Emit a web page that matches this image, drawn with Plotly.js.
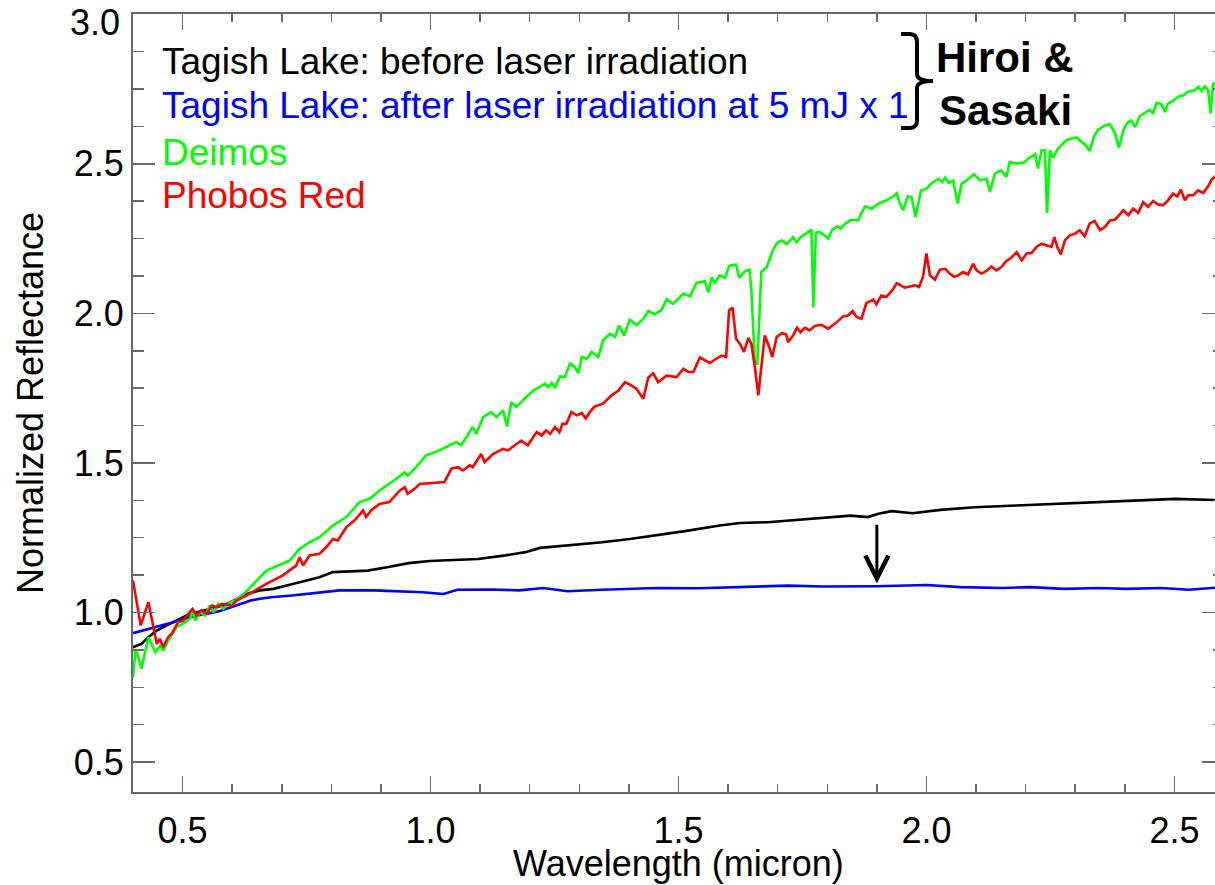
<!DOCTYPE html>
<html>
<head>
<meta charset="utf-8">
<script src="https://cdn.plot.ly/plotly-3.0.1.min.js"></script>
<style>
html,body{margin:0;padding:0;overflow:hidden;background:#fff;}
#chart{width:1225px;height:885px;}
</style>
</head>
<body>
<div id="chart"></div>
<script>
// ---- Data ----
const seriesNames = [
  "Tagish Lake: before laser irradiation",
  "Tagish Lake: after laser irradiation at 5 mJ x 1",
  "Deimos",
  "Phobos Red"
];
const seriesColors = ["#000000", "#0000ff", "#00ff00", "#ff0000"];

const beforeWl = [0.400,0.417,0.431,0.448,0.468,0.488,0.508,0.528,0.555,0.582,0.609,0.629,0.656,0.683,0.710,0.734,0.751,0.776,0.803,0.837,0.873,0.915,0.956,0.998,1.054,1.096,1.151,1.193,1.221,1.276,1.346,1.402,1.457,1.513,1.583,1.624,1.680,1.736,1.791,1.847,1.882,1.903,1.930,1.972,2.028,2.097,2.181,2.264,2.348,2.431,2.501,2.542,2.600];
const beforeR  = [0.884,0.895,0.917,0.940,0.957,0.973,0.990,1.001,1.012,1.023,1.045,1.062,1.074,1.079,1.090,1.101,1.107,1.118,1.135,1.137,1.140,1.152,1.165,1.172,1.176,1.179,1.191,1.202,1.216,1.224,1.235,1.246,1.258,1.272,1.291,1.299,1.302,1.310,1.317,1.324,1.319,1.330,1.339,1.332,1.343,1.352,1.358,1.363,1.369,1.375,1.380,1.377,1.375];

const afterWl = [0.400,0.431,0.460,0.483,0.515,0.539,0.570,0.595,0.620,0.637,0.656,0.678,0.720,0.776,0.817,0.887,0.950,0.984,1.026,1.054,1.123,1.179,1.228,1.276,1.346,1.402,1.457,1.541,1.624,1.722,1.791,1.900,2.000,2.069,2.153,2.209,2.278,2.348,2.403,2.473,2.529,2.600];
const afterR  = [0.931,0.945,0.957,0.968,0.985,0.993,1.003,1.016,1.030,1.040,1.046,1.051,1.057,1.068,1.074,1.074,1.070,1.068,1.062,1.076,1.077,1.074,1.082,1.071,1.076,1.079,1.082,1.081,1.085,1.090,1.087,1.088,1.092,1.085,1.082,1.085,1.079,1.082,1.079,1.082,1.076,1.085];

const deimosWl = [0.400,0.405,0.409,0.417,0.431,0.445,0.455,0.461,0.471,0.488,0.505,0.515,0.521,0.525,0.535,0.545,0.555,0.562,0.572,0.582,0.596,0.606,0.622,0.669,0.716,0.736,0.756,0.776,0.803,0.830,0.857,0.877,0.897,0.917,0.931,0.948,0.954,0.971,0.991,1.018,1.052,1.062,1.079,1.085,1.092,1.106,1.122,1.133,1.146,1.154,1.163,1.173,1.186,1.207,1.231,1.237,1.244,1.251,1.261,1.271,1.281,1.291,1.298,1.305,1.315,1.325,1.338,1.348,1.362,1.372,1.380,1.390,1.402,1.415,1.429,1.439,1.452,1.466,1.476,1.489,1.510,1.523,1.536,1.553,1.560,1.567,1.573,1.583,1.594,1.602,1.616,1.622,1.634,1.643,1.647,1.654,1.659,1.667,1.678,1.688,1.698,1.708,1.718,1.731,1.738,1.748,1.764,1.768,1.772,1.777,1.783,1.792,1.802,1.810,1.821,1.827,1.835,1.848,1.862,1.876,1.889,1.906,1.919,1.933,1.940,1.946,1.953,1.962,1.970,1.978,1.989,2.000,2.010,2.024,2.032,2.038,2.045,2.054,2.063,2.071,2.081,2.096,2.108,2.121,2.128,2.138,2.151,2.161,2.168,2.178,2.195,2.205,2.219,2.225,2.232,2.239,2.243,2.249,2.255,2.264,2.272,2.282,2.292,2.303,2.313,2.321,2.329,2.338,2.346,2.361,2.370,2.380,2.388,2.397,2.405,2.412,2.421,2.430,2.440,2.450,2.457,2.464,2.474,2.481,2.487,2.497,2.508,2.518,2.528,2.541,2.548,2.555,2.561,2.568,2.573,2.578,2.590,2.600];
const deimosR  = [0.784,0.873,0.862,0.812,0.917,0.867,0.890,0.873,0.906,0.951,0.968,0.979,1.012,0.973,1.001,0.990,1.023,1.001,1.029,1.012,1.035,1.040,1.060,1.140,1.174,1.213,1.235,1.252,1.291,1.319,1.369,1.380,1.408,1.430,1.447,1.469,1.458,1.486,1.525,1.542,1.570,1.559,1.603,1.620,1.597,1.653,1.670,1.653,1.676,1.622,1.703,1.687,1.709,1.742,1.765,1.753,1.767,1.753,1.789,1.787,1.832,1.820,1.800,1.854,1.848,1.871,1.854,1.910,1.932,1.921,1.960,1.926,1.979,1.960,1.982,2.008,1.997,2.012,2.047,2.032,2.066,2.057,2.101,2.108,2.071,2.121,2.101,2.127,2.119,2.158,2.164,2.119,2.141,2.146,2.077,1.832,1.832,2.138,2.155,2.202,2.235,2.244,2.231,2.255,2.238,2.257,2.275,2.280,2.020,2.270,2.272,2.264,2.250,2.280,2.291,2.283,2.298,2.313,2.311,2.358,2.350,2.369,2.378,2.391,2.402,2.369,2.345,2.391,2.387,2.322,2.411,2.417,2.434,2.450,2.439,2.454,2.436,2.445,2.367,2.434,2.445,2.465,2.445,2.450,2.406,2.467,2.478,2.456,2.506,2.501,2.503,2.517,2.532,2.484,2.545,2.545,2.336,2.545,2.521,2.547,2.562,2.579,2.584,2.588,2.573,2.562,2.543,2.592,2.614,2.629,2.632,2.603,2.554,2.612,2.637,2.645,2.623,2.659,2.670,2.681,2.668,2.704,2.699,2.673,2.701,2.710,2.724,2.729,2.742,2.746,2.757,2.744,2.759,2.746,2.668,2.768,2.770,2.775];

const phobosWl = [0.400,0.4155,0.431,0.448,0.454,0.461,0.471,0.478,0.491,0.5015,0.514,0.520,0.528,0.538,0.549,0.559,0.569,0.579,0.599,0.609,0.629,0.669,0.702,0.716,0.729,0.736,0.743,0.756,0.776,0.790,0.803,0.813,0.830,0.847,0.864,0.870,0.880,0.897,0.917,0.938,0.948,0.954,0.968,0.978,1.028,1.042,1.055,1.065,1.079,1.085,1.102,1.109,1.126,1.146,1.156,1.183,1.196,1.214,1.224,1.233,1.241,1.251,1.260,1.266,1.274,1.284,1.295,1.305,1.313,1.321,1.331,1.348,1.365,1.379,1.392,1.402,1.415,1.429,1.439,1.449,1.459,1.476,1.496,1.510,1.520,1.530,1.543,1.557,1.563,1.573,1.587,1.596,1.602,1.609,1.616,1.624,1.632,1.641,1.647,1.654,1.661,1.667,1.674,1.683,1.689,1.698,1.708,1.717,1.721,1.731,1.739,1.746,1.755,1.764,1.775,1.788,1.802,1.815,1.825,1.832,1.842,1.851,1.859,1.869,1.879,1.893,1.899,1.909,1.919,1.931,1.940,1.948,1.956,1.967,1.977,1.985,1.993,2.000,2.007,2.017,2.027,2.038,2.047,2.056,2.064,2.074,2.084,2.094,2.101,2.111,2.121,2.131,2.141,2.151,2.161,2.171,2.182,2.192,2.202,2.212,2.222,2.232,2.242,2.252,2.258,2.264,2.271,2.279,2.289,2.299,2.309,2.319,2.329,2.339,2.350,2.360,2.370,2.380,2.390,2.397,2.407,2.417,2.427,2.437,2.447,2.457,2.467,2.477,2.487,2.497,2.506,2.513,2.521,2.528,2.538,2.548,2.558,2.568,2.575,2.581,2.600];
const phobosR  = [1.107,0.957,1.035,0.895,0.912,0.884,0.918,0.929,0.968,0.973,1.001,1.012,0.990,1.007,0.996,1.023,1.018,1.029,1.023,1.040,1.057,1.096,1.124,1.140,1.157,1.185,1.157,1.191,1.196,1.219,1.246,1.241,1.285,1.308,1.341,1.319,1.341,1.363,1.369,1.408,1.419,1.397,1.414,1.430,1.436,1.481,1.486,1.475,1.492,1.486,1.530,1.503,1.530,1.547,1.542,1.575,1.559,1.603,1.592,1.609,1.597,1.620,1.603,1.631,1.631,1.670,1.659,1.667,1.648,1.670,1.689,1.698,1.726,1.742,1.770,1.762,1.748,1.715,1.785,1.800,1.770,1.792,1.787,1.815,1.804,1.804,1.852,1.840,1.834,1.845,1.859,1.854,2.010,2.019,1.915,1.898,1.871,1.918,1.898,1.820,1.726,1.820,1.926,1.887,1.854,1.921,1.934,1.930,1.904,1.926,1.952,1.937,1.952,1.943,1.958,1.962,1.949,1.965,1.979,1.990,1.993,2.008,1.988,1.982,2.035,2.046,2.030,2.060,2.055,2.077,2.101,2.094,2.086,2.090,2.094,2.088,2.122,2.200,2.127,2.113,2.146,2.149,2.133,2.122,2.127,2.138,2.130,2.166,2.144,2.133,2.142,2.157,2.144,2.155,2.175,2.186,2.205,2.177,2.200,2.202,2.222,2.233,2.227,2.222,2.255,2.222,2.197,2.244,2.261,2.266,2.278,2.258,2.300,2.309,2.278,2.289,2.311,2.313,2.331,2.345,2.328,2.350,2.336,2.372,2.356,2.376,2.364,2.361,2.378,2.400,2.391,2.414,2.378,2.395,2.395,2.411,2.402,2.425,2.447,2.456,2.470];

const xTickVals = [0.5, 1.0, 1.5, 2.0, 2.5];
const xTickText = ["0.5", "1.0", "1.5", "2.0", "2.5"];
const yTickVals = [0.5, 1.0, 1.5, 2.0, 2.5, 3.0];
const yTickText = ["0.5", "1.0", "1.5", "2.0", "2.5", "3.0"];
const xTitle = "Wavelength (micron)";
const yTitle = "Normalized Reflectance";
const sourceLines = ["Hiroi &", "Sasaki"];
const arrowPoint = {x: 1.9, yFrom: 1.298, yTo: 1.097};

// ---- Chart ----
const FONT = "Liberation Sans, Arial, Helvetica, sans-serif";
const AXC = "#6a6a6a";
const xs = [beforeWl, afterWl, deimosWl, phobosWl];
const ys = [beforeR, afterR, deimosR, phobosR];
const traces = xs.map((x, i) => ({
  type: "scatter", mode: "lines", x: x, y: ys[i], name: seriesNames[i],
  line: {color: seriesColors[i], width: 2.6}, hoverinfo: "skip"
}));

const legendY = [0.9395, 0.8818, 0.8226, 0.7661];
const annotations = seriesNames.map((t, i) => ({
  xref: "paper", yref: "paper", x: 0.0250, y: legendY[i],
  xanchor: "left", yanchor: "middle", showarrow: false,
  text: t, font: {family: FONT, size: 37, color: seriesColors[i]}
}));
annotations.push({
  xref: "paper", yref: "paper", x: 0.7345, y: 0.9447, xanchor: "left", yanchor: "middle",
  showarrow: false, text: "<b>" + sourceLines[0] + "</b>", font: {family: FONT, size: 42, color: "#000"}
});
annotations.push({
  xref: "paper", yref: "paper", x: 0.7372, y: 0.8766, xanchor: "left", yanchor: "middle",
  showarrow: false, text: "<b>" + sourceLines[1] + "</b>", font: {family: FONT, size: 42, color: "#000"}
});
// x-axis title, drawn as a centred text under the tick labels
annotations.push({
  xref: "paper", yref: "paper", x: 0.5, y: -0.0925, xanchor: "center", yanchor: "middle",
  showarrow: false, text: xTitle, font: {family: FONT, size: 36, color: "#000"}
});
// top y tick label, nudged down inside the page as in the reference
const topIdx = yTickVals.length - 1;
annotations.push({
  xref: "paper", yref: "paper", x: -0.0105, y: 0.9897, xanchor: "right", yanchor: "middle",
  showarrow: false, text: yTickText[topIdx], font: {family: FONT, size: 36, color: "#000"}
});
annotations.push({
  xref: "x", yref: "y", axref: "x", ayref: "y",
  x: arrowPoint.x, y: arrowPoint.yTo, ax: arrowPoint.x, ay: arrowPoint.yFrom,
  text: "", showarrow: true, arrowhead: 5, arrowsize: 1.5, arrowwidth: 3, arrowcolor: "#000",
  standoff: 0, startstandoff: 0
});

const brace = "M 0.7039,0.9743 L 0.7122,0.9743 Q 0.7186,0.9743 0.7186,0.9640 L 0.7186,0.9229 " +
              "Q 0.7186,0.9139 0.7333,0.9139 Q 0.7186,0.9139 0.7186,0.9049 L 0.7186,0.8637 " +
              "Q 0.7186,0.8535 0.7122,0.8535 L 0.7039,0.8535";

const axisCommon = {
  showgrid: false, zeroline: false, showline: true, linecolor: AXC, linewidth: 2,
  mirror: "ticks", ticks: "inside", tickcolor: AXC, tickwidth: 1.5,
  tickfont: {family: FONT, size: 36, color: "#000"}, tickmode: "array"
};

const layout = {
  width: 1225, height: 885,
  margin: {l: 133, r: 1, t: 14, b: 93, pad: 0},
  paper_bgcolor: "#fff", plot_bgcolor: "#fff",
  showlegend: false,
  font: {family: FONT, color: "#000"},
  xaxis: Object.assign({}, axisCommon, {
    range: [0.4, 2.6], autorange: false,
    tickvals: xTickVals, ticktext: xTickText, ticklen: 16,
    ticklabelstandoff: 6,
    minor: {tickmode: "linear", tick0: 0, dtick: 0.1, ticks: "inside", ticklen: 8, tickcolor: AXC, tickwidth: 1.5, showgrid: false}
  }),
  yaxis: Object.assign({}, axisCommon, {
    range: [0.4, 3.0008], autorange: false,
    tickvals: yTickVals,
    ticktext: yTickText.map((t, i) => (i === topIdx ? "" : t)),
    ticklen: 22,
    ticklabelstandoff: 0,
    minor: {tickmode: "linear", tick0: 0, dtick: 0.125, ticks: "inside", ticklen: 11, tickcolor: AXC, tickwidth: 1.5, showgrid: false},
    title: {text: yTitle, font: {family: FONT, size: 36, color: "#000"}, standoff: 19}
  }),
  annotations: annotations,
  shapes: [{type: "path", xref: "paper", yref: "paper", path: brace, line: {color: "#000", width: 4}}]
};

Plotly.newPlot("chart", traces, layout, {displayModeBar: false, staticPlot: true});
</script>
</body>
</html>
